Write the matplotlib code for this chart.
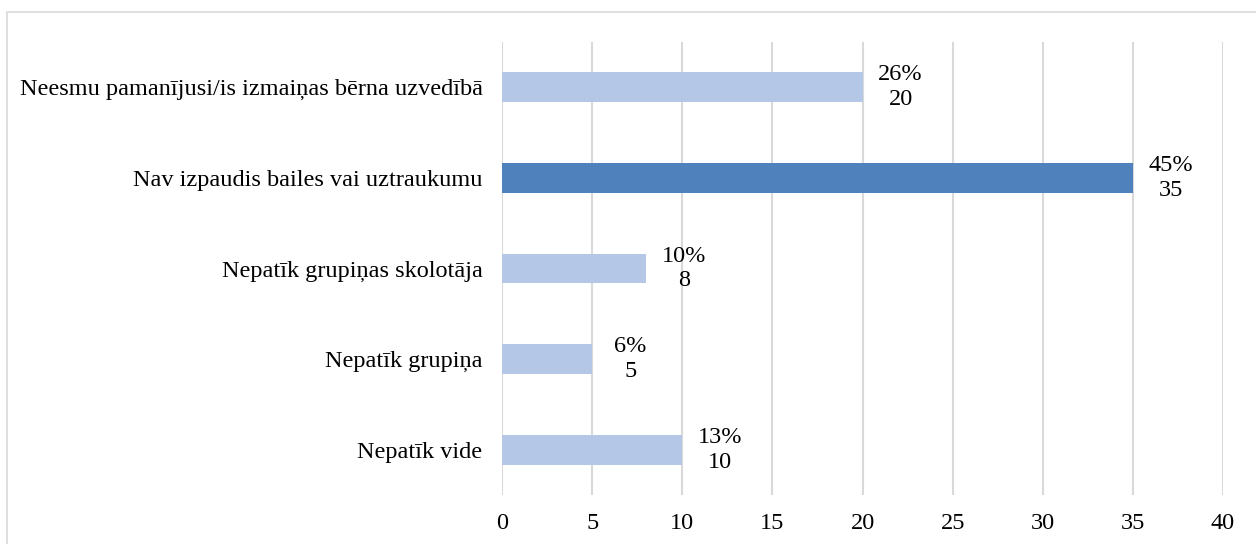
import matplotlib.pyplot as plt
from matplotlib.patches import Rectangle

# data (top to bottom as shown)
categories = ['Neesmu pamanījusi/is izmaiņas bērna uzvedībā',
              'Nav izpaudis bailes vai uztraukumu',
              'Nepatīk grupiņas skolotāja',
              'Nepatīk grupiņa',
              'Nepatīk vide']
counts = [20, 35, 8, 5, 10]
percents = [26, 45, 10, 6, 13]
highlight = 1

plt.rcParams['font.family'] = ['Liberation Serif', 'DejaVu Serif']

fig = plt.figure(figsize=(12.56, 5.44), dpi=100)
ax = fig.add_axes([502 / 1256, 1 - 495 / 544, 721 / 1256, 453 / 544])

# light grey frame around the chart area
fig.patches.append(Rectangle((7 / 1256, -0.1), 1.2, 1 - 12 / 544 + 0.1,
                             transform=fig.transFigure, fill=False,
                             edgecolor='#D9D9D9', linewidth=1.2))

pos = list(range(len(categories)))
colors = ['#4F81BD' if i == highlight else '#B4C7E7' for i in pos]
ax.barh(pos, counts, height=0.33, color=colors, zorder=3)

for i, (c, p) in enumerate(zip(counts, percents)):
    ax.annotate(f'{p}%\n{c}', (c, i), xytext=(38, 0), textcoords='offset pixels',
                ha='center', va='center', fontsize=17.5, linespacing=1.25)

ax.set_ylim(len(categories) - 0.5, -0.5)
ax.set_xlim(0, 40)
ax.set_xticks(range(0, 41, 5))
ax.set_yticks(pos)
ax.set_yticklabels(categories)
ax.tick_params(axis='both', length=0, labelsize=17.5)
ax.tick_params(axis='y', pad=14)
ax.tick_params(axis='x', pad=13)
ax.grid(axis='x', color='#D9D9D9', linewidth=1.5, zorder=0)
for s in ax.spines.values():
    s.set_visible(False)

fig.savefig('out.png', dpi=100)
